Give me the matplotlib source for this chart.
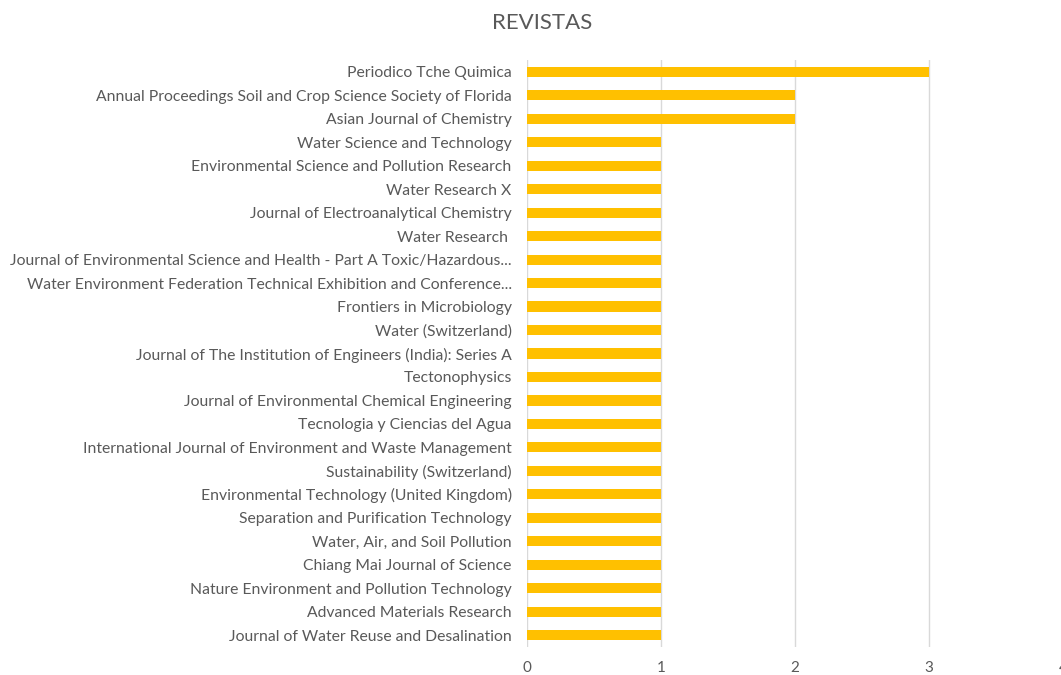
import matplotlib.pyplot as plt

revistas = [
    'Periodico Tche Quimica',
    'Annual Proceedings Soil and Crop Science Society of Florida',
    'Asian Journal of Chemistry',
    'Water Science and Technology',
    'Environmental Science and Pollution Research',
    'Water Research X',
    'Journal of Electroanalytical Chemistry',
    'Water Research ',
    'Journal of Environmental Science and Health - Part A Toxic/Hazardous...',
    'Water Environment Federation Technical Exhibition and Conference...',
    'Frontiers in Microbiology',
    'Water (Switzerland)',
    'Journal of The Institution of Engineers (India): Series A',
    'Tectonophysics',
    'Journal of Environmental Chemical Engineering',
    'Tecnologia y Ciencias del Agua',
    'International Journal of Environment and Waste Management',
    'Sustainability (Switzerland)',
    'Environmental Technology (United Kingdom)',
    'Separation and Purification Technology',
    'Water, Air, and Soil Pollution',
    'Chiang Mai Journal of Science',
    'Nature Environment and Pollution Technology',
    'Advanced Materials Research',
    'Journal of Water Reuse and Desalination',
]
cantidad = [3, 2, 2, 1, 1, 1, 1, 1, 1, 1, 1, 1, 1, 1, 1, 1, 1, 1, 1, 1, 1, 1, 1, 1, 1]
xticks = [0, 1, 2, 3, 4]

plt.rcParams['font.family'] = ['Lato', 'DejaVu Sans']
gris = '#595959'

fig = plt.figure(figsize=(10.61, 6.75), dpi=100)
W, H = 1061, 675
ax = fig.add_axes([527 / W, 1 - 647 / H, (1063 - 527) / W, (647 - 60) / H])

pos = list(range(len(revistas)))
ax.barh(pos, cantidad, height=0.43, color='#FFC000', zorder=3)
ax.set_ylim(len(revistas) - 0.5, -0.5)
ax.set_xlim(0, 4)
ax.set_yticks(pos)
ax.set_yticklabels(revistas, fontsize=11.3, color=gris)
ax.set_xticks(xticks)
ax.set_xticklabels([str(t) for t in xticks], fontsize=11, color=gris)
ax.tick_params(axis='y', length=0, pad=11)
ax.tick_params(axis='x', length=0, pad=10)
ax.grid(axis='x', color='#D9D9D9', linewidth=1, zorder=0)
for s in ax.spines.values():
    s.set_visible(False)

fig.text(542 / W, 1 - 23 / H, 'REVISTAS', ha='center', va='center', fontsize=16, color=gris)

fig.savefig('out.png', dpi=100)
